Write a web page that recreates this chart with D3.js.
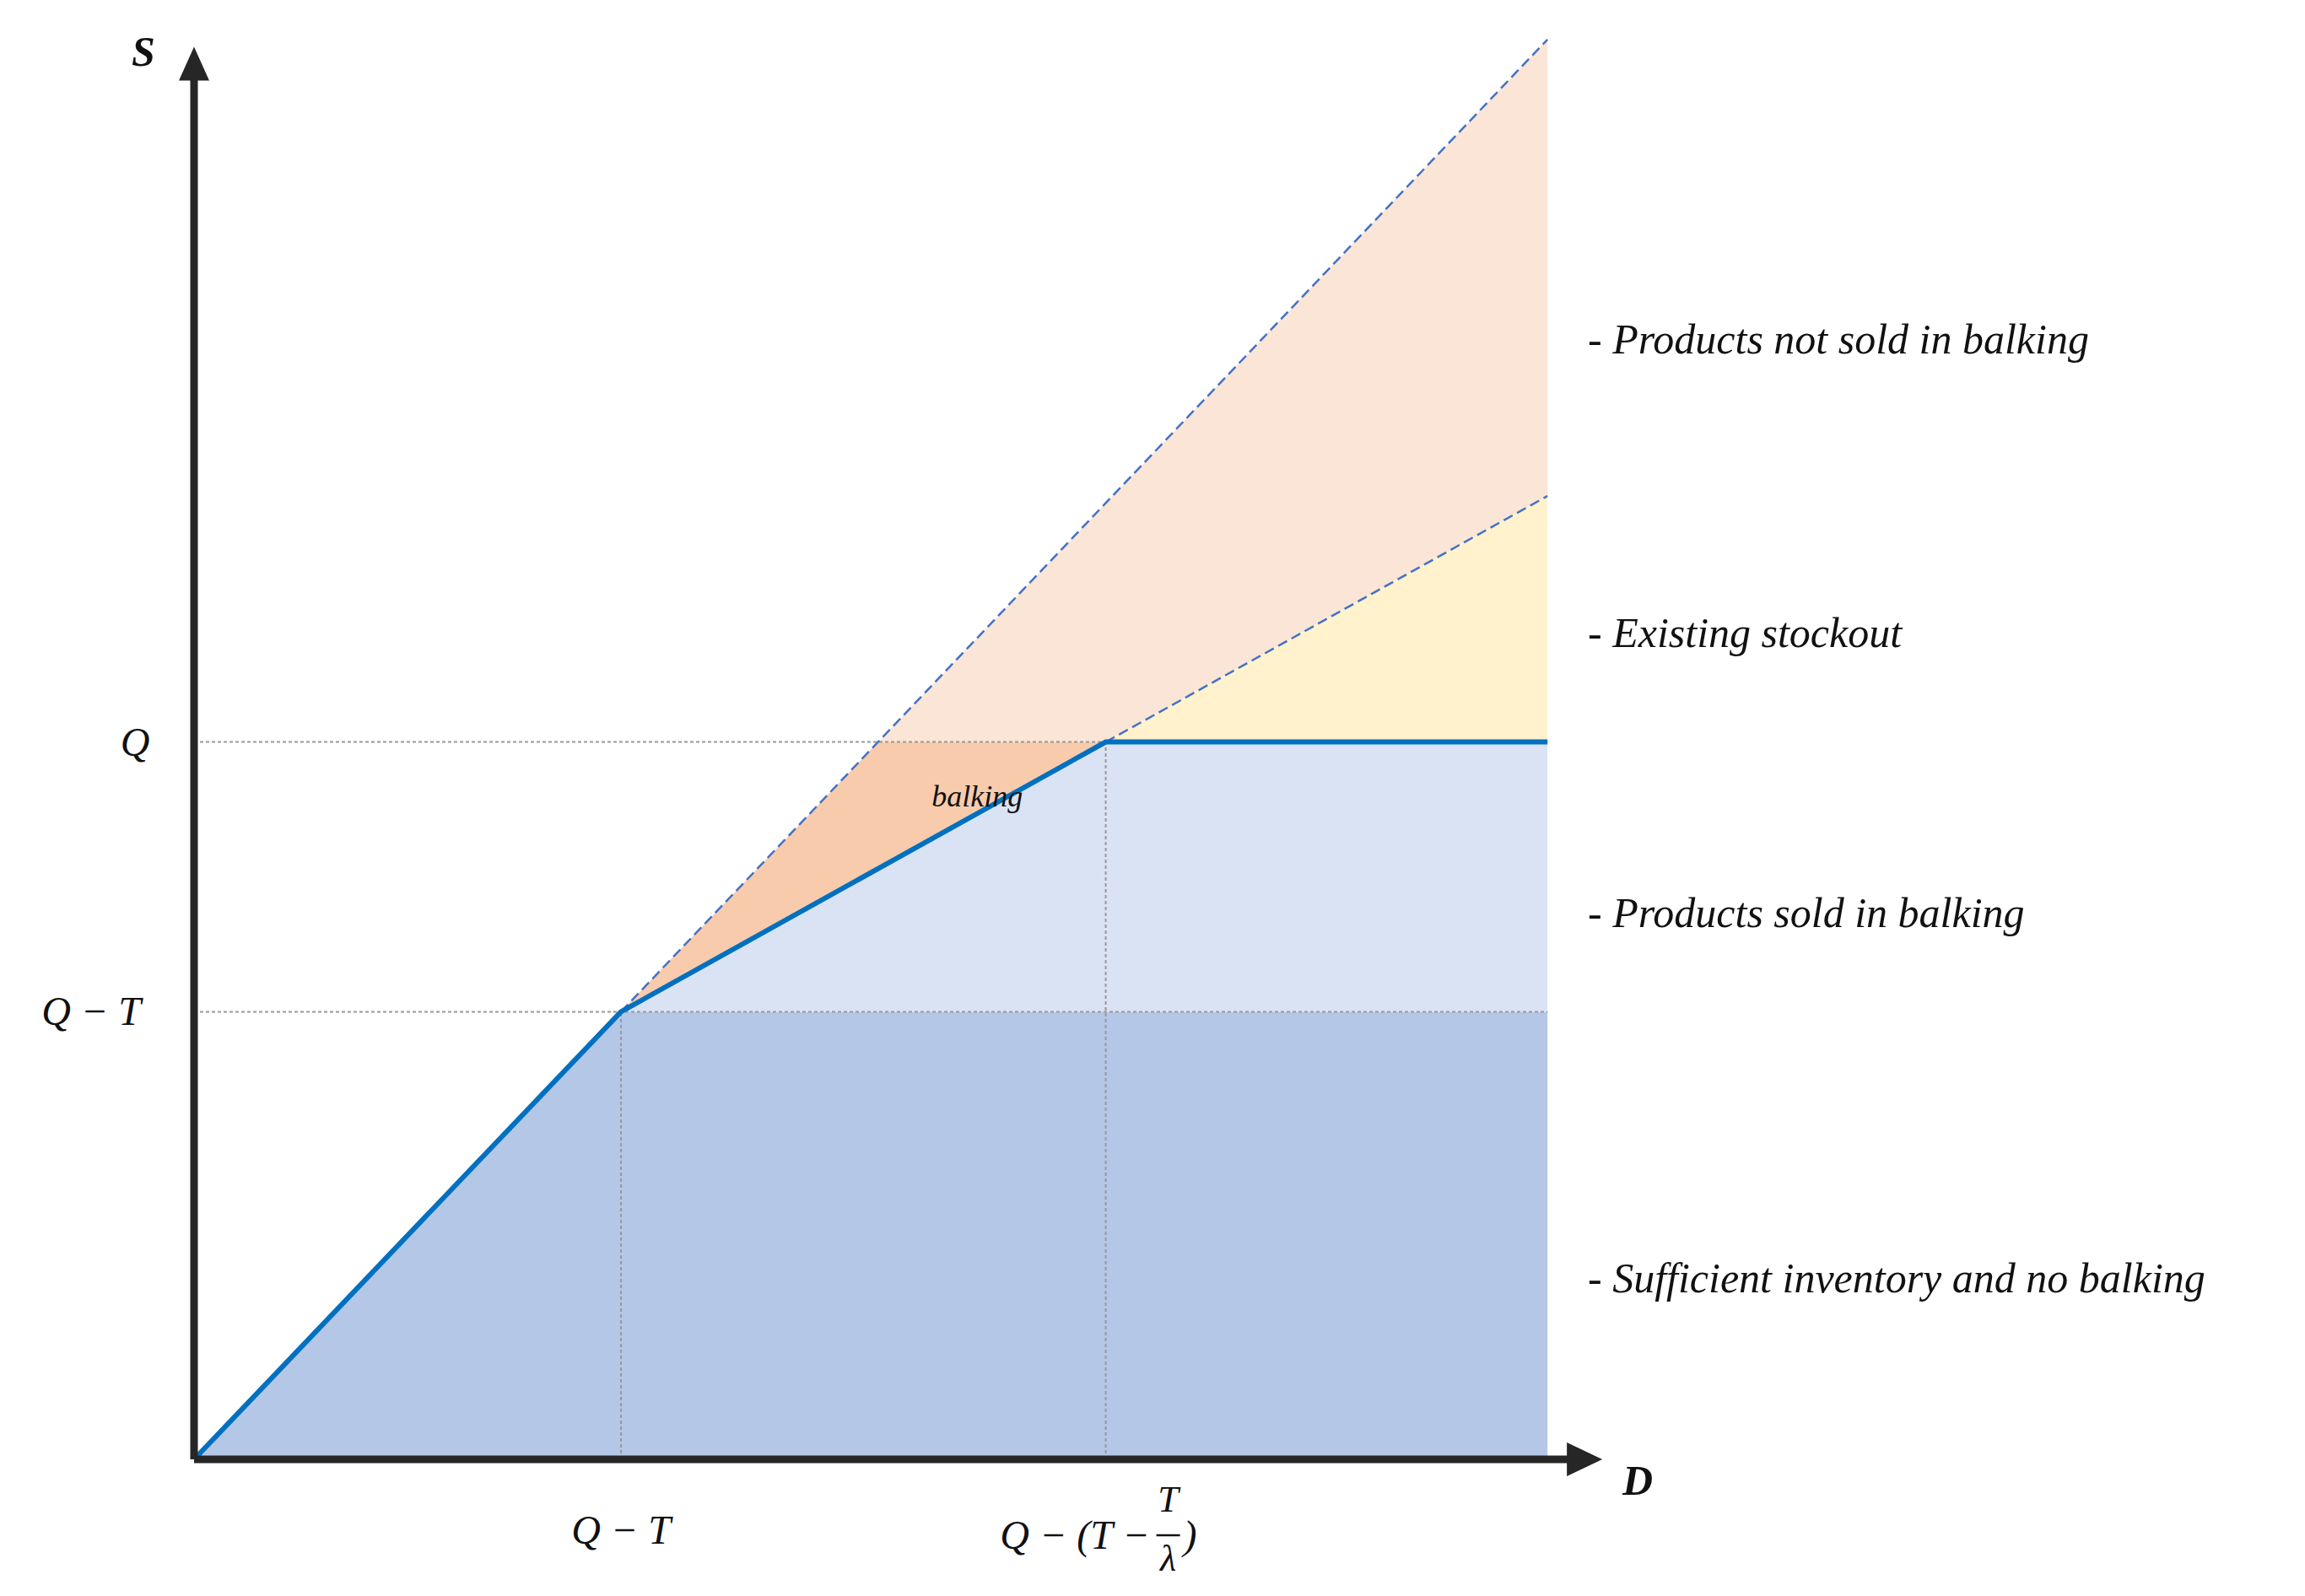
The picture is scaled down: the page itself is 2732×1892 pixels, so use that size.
<!DOCTYPE html>
<html><head><meta charset="utf-8">
<script src="https://cdn.jsdelivr.net/npm/d3@7"></script>
<style>body{margin:0;background:#fff}svg{display:block}</style>
</head><body>
<svg id="c" width="2732" height="1892"></svg>
<script>
// data (chart units)
const xTicks = [2.88, 6.15];          // Q-T, Q-(T-T/λ)
const yTicks = [3.02, 4.84];          // Q-T, Q
const xEnd = 9.13;
const upperTop = 9.58;                // S = D line at xEnd
const lowerTop = 6.50;                // balking slope line at xEnd
const axisMax = [9.5, 9.53];
const legendLabels = ["- Products not sold in balking", "- Existing stockout", "- Products sold in balking", "- Sufficient inventory and no balking"];
const legendY = [7.55, 5.57, 3.68, 1.22];

const u = 175.7, ox = 230, oy = 1730;
const x = d3.scaleLinear().domain([0, 1]).range([ox, ox + u]);
const y = d3.scaleLinear().domain([0, 1]).range([oy, oy - u]);
const svg = d3.select("#c");
const [xQT, xK] = xTicks, [yQT, yQ] = yTicks;
const xI = yQ * xQT / yQT;
const line = d3.line().x(d => x(d[0])).y(d => y(d[1]));
const poly = (pts, fill) => svg.append("path").attr("d", line(pts) + "Z").attr("fill", fill);

poly([[0,0],[xQT,yQT],[xEnd,yQT],[xEnd,0]], "#b4c7e7");
poly([[xQT,yQT],[xK,yQ],[xEnd,yQ],[xEnd,yQT]], "#dae3f3");
poly([[xQT,yQT],[xI,yQ],[xK,yQ]], "#f8cbad");
poly([[xI,yQ],[xEnd,upperTop],[xEnd,lowerTop],[xK,yQ]], "#fbe5d6");
poly([[xK,yQ],[xEnd,lowerTop],[xEnd,yQ]], "#fff2cc");

// gray dotted guides
const g = svg.append("g").attr("stroke", "#999").attr("stroke-width", 2).attr("stroke-dasharray", "4,3").attr("fill", "none");
yTicks.forEach(v => g.append("path").attr("d", line([[0, v], [xEnd, v]])));
xTicks.forEach((v, i) => g.append("path").attr("d", line([[v, 0], [v, yTicks[i]]])));

// dashed blue lines
const db = svg.append("g").attr("stroke", "#4472c4").attr("stroke-width", 2.5).attr("stroke-dasharray", "12,6").attr("fill", "none");
db.append("path").attr("d", line([[xQT, yQT], [xEnd, upperTop]]));
db.append("path").attr("d", line([[xK, yQ], [xEnd, lowerTop]]));

// main curve
svg.append("path").attr("d", line([[0,0],[xQT,yQT],[xK,yQ],[xEnd,yQ]]))
  .attr("fill", "none").attr("stroke", "#0070c0").attr("stroke-width", 6);

// axes
const ax = svg.append("g").attr("stroke", "#262626").attr("stroke-width", 9).attr("fill", "none");
ax.append("path").attr("d", line([[0, 0], [axisMax[0] - 0.18, 0]]));
ax.append("path").attr("d", line([[0, 0], [0, axisMax[1] - 0.18]]));
svg.append("path").attr("fill", "#262626")
  .attr("d", `M${x(axisMax[0])},${oy} L${x(axisMax[0]) - 42},${oy - 20} L${x(axisMax[0]) - 42},${oy + 20}Z`);
svg.append("path").attr("fill", "#262626")
  .attr("d", `M${ox},${y(axisMax[1])} L${ox - 18},${y(axisMax[1]) + 40} L${ox + 18},${y(axisMax[1]) + 40}Z`);

const T = (px, py, s, size, anchor, extra) => {
  const t = svg.append("text").attr("x", px).attr("y", py).text(s)
    .attr("font-family", "Liberation Serif, DejaVu Serif, serif").attr("font-style", "italic")
    .attr("font-size", size).attr("text-anchor", anchor || "start").attr("fill", "#111");
  if (extra) t.attr("font-weight", "bold");
  return t;
};
T(ox - 60, y(axisMax[1]) + 22, "S", 50, "middle", true);
T(x(axisMax[0]) + 42, oy + 42, "D", 50, "middle", true);
T(160, y(yQ) + 16, "Q", 48, "middle");
T(108, y(yQT) + 16, "Q − T", 48, "middle");
T(x(xQT), oy + 100, "Q − T", 48, "middle");
// Q − (T − T/λ)
const cx = x(xK);
T(cx + 52, oy + 106, "Q − (T −", 48, "end");
T(cx + 92, oy + 106, ")", 48, "start");
T(cx + 74, oy + 62, "T", 44, "middle");
svg.append("line").attr("x1", cx + 60).attr("x2", cx + 88).attr("y1", oy + 90).attr("y2", oy + 90).attr("stroke", "#111").attr("stroke-width", 2.5);
T(cx + 74, oy + 132, "λ", 44, "middle");

T(x((xI + xK) / 2 - 0.1), y(yQ) + 76, "balking", 36, "middle");
legendLabels.forEach((s, i) => T(1882, y(legendY[i]) + 16, s, 50, "start"));
</script>
</body></html>
